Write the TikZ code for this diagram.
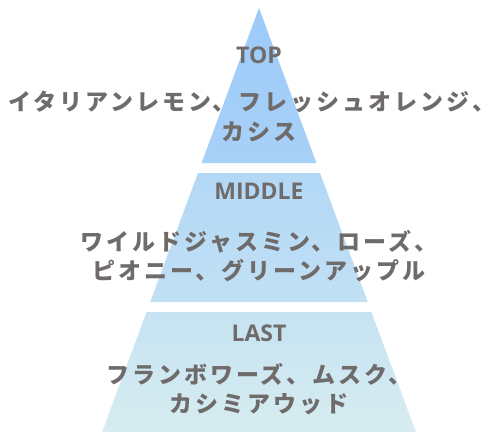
\documentclass[tikz,border=0pt]{standalone}
\usepackage{fontspec}
\setmainfont{Open Sans}
\newfontfamily\jpfont[LetterSpace=13]{Noto Sans CJK JP}
\definecolor{txt}{HTML}{6F6B6B}
\definecolor{c1}{HTML}{9CCAF9}
\definecolor{c2}{HTML}{A8D1F7}
\definecolor{c3}{HTML}{B2D8F6}
\definecolor{c4}{HTML}{C1E0F4}
\definecolor{c5}{HTML}{C6E3F3}
\definecolor{c6}{HTML}{D7ECF0}
\tikzset{
  head/.style={text=txt, font=\fontsize{23}{26}\selectfont\bfseries, inner sep=0pt, anchor=center},
  body/.style={text=txt, font=\jpfont\fontsize{23}{29}\selectfont\bfseries, align=center, inner sep=0pt, anchor=center},
}
\begin{document}
\begin{tikzpicture}[x=1pt,y=-1pt]
\useasboundingbox (0,0) rectangle (498,432);
% pyramid sections
\path[top color=c1,bottom color=c2] (259,8) -- (316.4,163) -- (201.6,163) -- cycle;
\path[top color=c3,bottom color=c4] (198,173) -- (320,173) -- (367.8,302) -- (150.2,302) -- cycle;
\path[top color=c5,bottom color=c6] (146.6,312) -- (371.4,312) -- (415.9,432) -- (102.1,432) -- cycle;
% texts
\node[head] (top) at (259,55) {TOP};
\node[body, anchor=west] (topa) at (8,101.5) {イタリアンレモン、フレッシュオレンジ、\hspace{-12pt}};
\node[body] (topb) at (259,132) {カシス};
\node[head] (mid) at (259,191) {MIDDLE};
\node[body] (midt) at (259,256.5) {ワイルドジャスミン、ローズ、\\ピオニー、グリーンアップル};
\node[head] (last) at (259,333) {LAST};
\node[body] (lastt) at (259,389) {フランボワーズ、ムスク、\\カシミアウッド};
\end{tikzpicture}
\end{document}
